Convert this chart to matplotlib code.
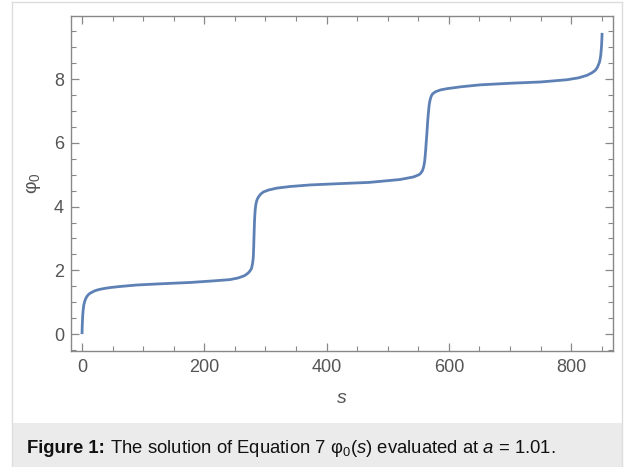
import matplotlib
matplotlib.use("Agg")
import matplotlib.pyplot as plt
from matplotlib.lines import Line2D
from matplotlib.patches import Rectangle
from matplotlib.ticker import MultipleLocator

plt.rcParams['font.family'] = ['Liberation Sans', 'DejaVu Sans']
plt.rcParams['mathtext.fontset'] = 'custom'
plt.rcParams['mathtext.rm'] = 'Liberation Sans'
plt.rcParams['mathtext.it'] = 'Liberation Sans:italic'
plt.rcParams['mathtext.bf'] = 'Liberation Sans:bold'

# curve
s_vals = [0, 0.3, 0.7, 1.2, 2, 3, 4.5, 6, 8, 10, 13, 17, 21, 28, 36, 46, 60,
          89, 130, 177, 215, 242, 255, 264, 268, 273, 277, 278.8, 279.8, 280.2,
          280.5, 280.8, 281, 281.5, 282, 282.5, 283.2, 284.2, 285.5, 287, 288.5,
          292, 296.7, 305, 318.5, 340, 373, 420, 470, 520, 542, 551, 554, 556.5,
          558, 559.3, 560.3, 561, 562, 563, 564, 565, 566, 566.8, 567.8, 569,
          570.6, 572, 573.5, 577.7, 586, 596.8, 620, 651, 700, 749.6, 793, 812,
          826, 834, 839.6, 842.5, 844.5, 846, 847.2, 848.3, 849, 849.6, 850.1,
          850.5]
phi_vals = [0, 0.2, 0.4, 0.6, 0.78, 0.92, 1.03, 1.11, 1.18, 1.23, 1.28, 1.32,
            1.36, 1.4, 1.43, 1.46, 1.49, 1.54, 1.58, 1.62, 1.67, 1.71, 1.76,
            1.82, 1.86, 1.94, 2.05, 2.2, 2.35, 2.45, 2.6, 2.75, 2.9, 3.2, 3.5,
            3.7, 3.9, 4.06, 4.17, 4.25, 4.3, 4.39, 4.46, 4.52, 4.58, 4.63, 4.68,
            4.72, 4.76, 4.85, 4.93, 5.0, 5.05, 5.12, 5.2, 5.3, 5.42, 5.55, 5.78,
            6.05, 6.3, 6.6, 6.85, 7.02, 7.2, 7.33, 7.44, 7.5, 7.54, 7.6, 7.66,
            7.7, 7.76, 7.82, 7.87, 7.91, 7.98, 8.04, 8.12, 8.2, 8.28, 8.36, 8.45,
            8.52, 8.62, 8.75, 8.9, 9.05, 9.25, 9.45]

x_ticks = [0, 200, 400, 600, 800]
y_ticks = [0, 2, 4, 6, 8]
caption_head = "Figure 1:"
caption_body = r" The solution of Equation 7 φ$_0$($s$) evaluated at $a$ = 1.01."

fig = plt.figure(figsize=(6.3, 4.67), dpi=100)

# outer border and caption box
fig.add_artist(Line2D([12/630, 12/630], [0, 1 - 2/467], color='#dddddd', lw=1))
fig.add_artist(Line2D([622/630, 622/630], [0, 1 - 2/467], color='#dddddd', lw=1))
fig.add_artist(Line2D([12/630, 622/630], [1 - 2/467, 1 - 2/467], color='#dddddd', lw=1))
fig.add_artist(Rectangle((12.5/630, 0), 609/630, 44/467, transform=fig.transFigure,
                         facecolor='#ebebeb', edgecolor='none'))
head = fig.text(27/630, 1 - 453/467, caption_head, fontsize=13.3,
                fontweight='bold', color='#111111', ha='left', va='baseline')
renderer = fig.canvas.get_renderer()
bb = head.get_window_extent(renderer)
fig.text(bb.x1 / 630, 1 - 453/467, caption_body, fontsize=13.3,
         color='#111111', ha='left', va='baseline')

ax = fig.add_axes([71/630, 1 - 351/467, 541.5/630, 335/467])
ax.plot(s_vals, phi_vals, color='#5e81b5', lw=2.0, solid_capstyle='butt')

ax.set_xlim(-18, 867.5)
ax.set_ylim(-0.53, 9.98)
ax.set_xticks(x_ticks)
ax.set_yticks(y_ticks)
ax.xaxis.set_minor_locator(MultipleLocator(50))
ax.yaxis.set_minor_locator(MultipleLocator(0.5))
ax.tick_params(which='both', direction='in', top=True, right=True,
               color='#888888', labelcolor='#555555', labelsize=13)
ax.tick_params(which='major', length=6, width=0.9, pad=5)
ax.tick_params(which='minor', length=3.5, width=0.8)
ax.tick_params(axis='x', which='major', pad=6)
for sp in ax.spines.values():
    sp.set_color('#888888')
    sp.set_linewidth(1)

ax.set_xlabel(r"$s$", fontsize=14, color='#555555', labelpad=10)
ax.set_ylabel(r"φ$_0$", fontsize=14, color='#555555', labelpad=8)

fig.savefig("out.png", dpi=100)
